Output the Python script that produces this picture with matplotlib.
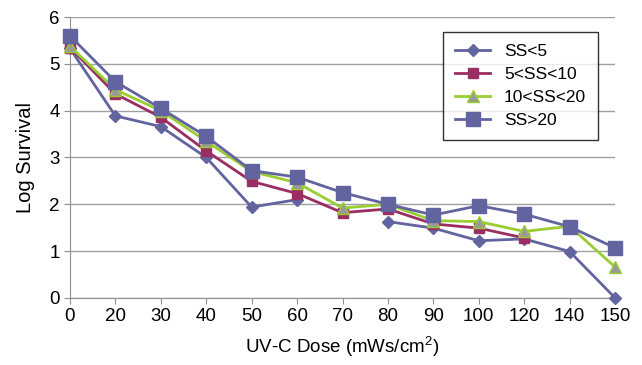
import numpy as np
import matplotlib

matplotlib.use("Agg")
import matplotlib.pyplot as plt  # noqa: E402

plt.rcParams["font.family"] = ["Liberation Sans", "DejaVu Sans"]
plt.rcParams["mathtext.default"] = "regular"

doses = ["0", "20", "30", "40", "50", "60", "70", "80", "90", "100", "120", "140", "150"]
nan = np.nan
ss_lt5 = [5.33, 3.89, 3.66, 3.0, 1.94, 2.1, nan, 1.63, 1.49, 1.22, 1.26, 0.99, 0.0]
ss_5_10 = [5.35, 4.36, 3.86, 3.14, 2.49, 2.23, 1.82, 1.9, 1.58, 1.49, 1.28, nan, nan]
ss_10_20 = [5.38, 4.45, 4.0, 3.35, 2.7, 2.46, 1.92, 2.0, 1.65, 1.63, 1.42, 1.53, 0.66]
ss_gt20 = [5.6, 4.62, 4.05, 3.45, 2.72, 2.58, 2.25, 2.0, 1.77, 1.97, 1.79, 1.52, 1.07]

blue = "#62649f"
magenta = "#9a2d62"
green = "#9acd32"

fig = plt.figure(figsize=(6.42, 3.65), dpi=100)
ax = fig.add_axes([0.109, 0.184, 0.849, 0.769])
x = np.arange(len(doses))

ax.plot(x, ss_lt5, "-D", color=blue, lw=2, ms=6, label="SS<5", clip_on=False, zorder=3)
ax.plot(x, ss_5_10, "-s", color=magenta, lw=2, ms=7, label="5<SS<10", clip_on=False, zorder=4)
ax.plot(x, ss_10_20, "-^", color=green, lw=2, ms=8, mfc="#999999", mec=green,
        label="10<SS<20", clip_on=False, zorder=5)
ax.plot(x, ss_gt20, "-s", color=blue, lw=2, ms=10, label="SS>20", clip_on=False, zorder=6)

ax.set_xlim(0, len(doses) - 1)
ax.set_ylim(0, 6)
ax.set_xticks(x)
ax.set_xticklabels(doses)
ax.set_yticks(range(7))
ax.grid(axis="y", color="#a0a0a0", lw=1)
ax.set_axisbelow(True)
for s in ["top", "right"]:
    ax.spines[s].set_visible(False)
for s in ["left", "bottom"]:
    ax.spines[s].set_color("#909090")
ax.tick_params(axis="both", colors="#909090", labelcolor="black", labelsize=13.5, length=4)

ax.set_xlabel("UV-C Dose (mWs/cm$^2$)", fontsize=13.5, labelpad=7)
ax.set_ylabel("Log Survival", fontsize=14.5, labelpad=10)

leg = ax.legend(loc="upper right", bbox_to_anchor=(0.969, 0.947), borderaxespad=0,
                fontsize=12.5, frameon=True, fancybox=False, edgecolor="black",
                handlelength=2.0, borderpad=0.7, labelspacing=0.45)
leg.get_frame().set_linewidth(1)

fig.savefig("out.png", dpi=100)
